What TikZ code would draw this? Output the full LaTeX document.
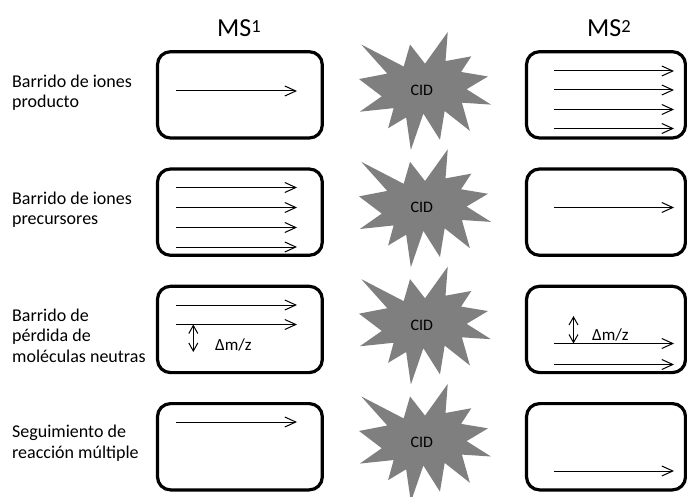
\documentclass[tikz,border=0pt]{standalone}
\usepackage{fontspec}
\setmainfont{Carlito}
\usetikzlibrary{arrows.meta}
\definecolor{cidgray}{RGB}{127,127,127}
\begin{document}
\begin{tikzpicture}[x=1pt,y=-1pt,
  box/.style={draw, line width=3.2pt, rounded corners=13pt, inner sep=0pt, minimum height=86.3pt},
  lbox/.style={box, minimum width=164.8pt},
  rbox/.style={box, minimum width=159pt},
  scan/.style={line width=1pt, -{Straight Barb[length=11pt,width=10pt]}},
  gap/.style={line width=1pt, {Straight Barb[length=8pt,width=9pt]}-{Straight Barb[length=8pt,width=9pt]}},
  lbl/.style={anchor=base west, align=left, inner sep=0pt, font=\fontsize{18}{20.5}\selectfont},
  cid/.style={inner sep=0pt, font=\fontsize{16}{18}\selectfont},
  dmz/.style={anchor=base west, inner sep=0pt, font=\fontsize{17}{19}\selectfont},
  ms/.style={anchor=base west, inner sep=0pt, font=\fontsize{26}{30}\selectfont}
]
\useasboundingbox (0,0) rectangle (687,497);

% headers
\node[ms] (ms1) at (217,36.7) {MS\raisebox{4.5pt}{\fontsize{18.5}{18.5}\selectfont 1}};
\node[ms] (ms2) at (587,36.7) {MS\raisebox{4.5pt}{\fontsize{18.5}{18.5}\selectfont 2}};

% row labels (base anchor = baseline of the last line)
\node[lbl] (t1) at (12,108) {Barrido de iones\\producto};
\node[lbl] (t2) at (12,224.5) {Barrido de iones\\precursores};
\node[lbl] (t3) at (12,362) {Barrido de\\pérdida de\\moléculas neutras};
\node[lbl] (t4) at (12,458) {Seguimiento de\\reacción múltiple};

% boxes
\foreach \i in {0,1,2,3}{
  \node[lbox] (L\i) at (239.9, 94.85+117.3*\i) {};
  \node[rbox] (R\i) at (606, 94.85+117.3*\i) {};
}

% starbursts
\foreach \i in {0,1,2,3}{
  \begin{scope}[shift={(359,32+117.3*\i)}, x=0.61111pt, y=-0.54630pt]
    \fill[cidgray] (108,58) -- (145.22,0) -- (141.55,53.25) -- (183.80,44.57) -- (167.02,73.15)
      -- (210.97,81.37) -- (176.07,104.75) -- (216,132.90) -- (168.37,129.42) -- (181.45,180.95)
      -- (140.20,144.57) -- (132.47,197.37) -- (105.32,149.35) -- (84.85,216) -- (77.15,156.27)
      -- (47.62,176.17) -- (56.67,139.37) -- (1.35,145.87) -- (37.22,117.75) -- (0,86.15)
      -- (46.27,76.17) -- (3.70,22.95) -- (73.12,63.20) -- (83.52,22.95) -- cycle;
  \end{scope}
  \node[cid] (C\i) at (421.7, 90.5+117.3*\i) {CID};
}

% row 1: product ion scan
\draw[scan] (176,91) -- (297,91);
\foreach \y in {71,90,109.5,128.5}{ \draw[scan] (554,\y) -- (674,\y); }

% row 2: precursor ion scan
\foreach \y in {187.5,207.5,227.5,247}{ \draw[scan] (176,\y) -- (297,\y); }
\draw[scan] (554,207.5) -- (674,207.5);

% row 3: neutral loss scan
\draw[scan] (176,305) -- (297,305);
\draw[scan] (176,324.5) -- (297,324.5);
\coordinate (g1a) at (193.3,324.5);
\coordinate (g1b) at (193.3,352);
\draw[gap] (g1a) -- (g1b);
\node[dmz] (d1) at (215,350) {Δm/z};
\draw[scan] (554,343.5) -- (674,343.5);
\draw[scan] (554,364.5) -- (674,364.5);
\coordinate (g2a) at (573.5,316);
\coordinate (g2b) at (573.5,343.5);
\draw[gap] (g2a) -- (g2b);
\node[dmz] (d2) at (592,340) {Δm/z};

% row 4: multiple reaction monitoring
\draw[scan] (176,422) -- (297,422);
\draw[scan] (554,471) -- (674,471);
\end{tikzpicture}
\end{document}
